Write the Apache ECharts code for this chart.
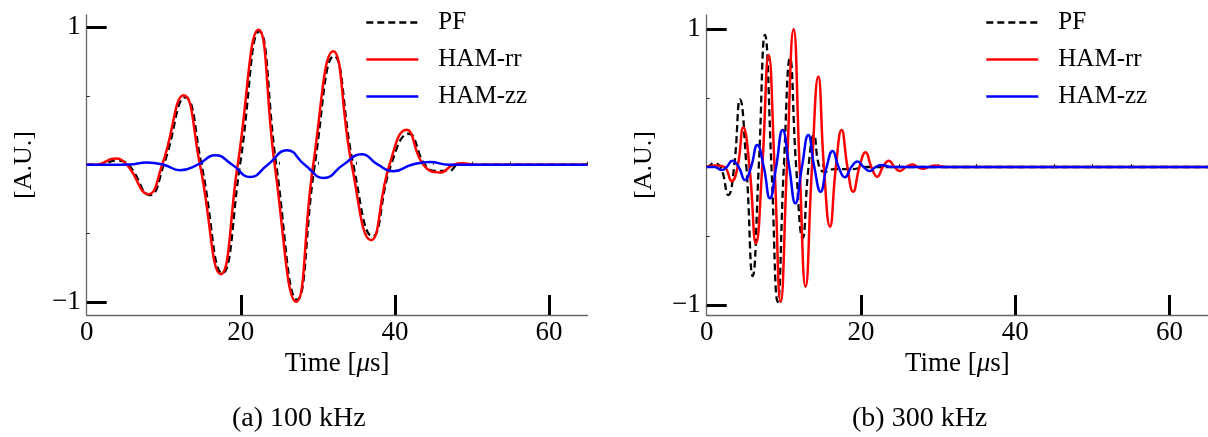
<!DOCTYPE html>
<html><head><meta charset="utf-8">
<script src="https://cdn.jsdelivr.net/npm/echarts@6/dist/echarts.min.js"></script>
<style>html,body{margin:0;padding:0;background:#fff}#c{width:1208px;height:437px}</style>
</head><body><div id="c"></div>
<script>
// ---- labels / ticks ----
const seriesNames = ['PF', 'HAM-rr', 'HAM-zz'];
const captions = ['(a) 100 kHz', '(b) 300 kHz'];
const xTickLabels = [0, 20, 40, 60];
const xTickMarks = [20, 40, 60];
const xMinorTicks = [5, 10, 15, 25, 30, 35, 45, 50, 55, 65];
const yTickLabels = [-1, 1];
const yMinorTicks = [-0.5, 0, 0.5];

// ---- (a) 100 kHz ----
const tA_pf = [0, 1.5, 3.9, 5.4, 8.2, 10.0, 12.8, 14.9, 17.6, 19.9, 22.4, 24.6, 27.3, 29.6, 32.1, 34.6, 37.1, 39.5, 41.8, 43.9, 45.3, 47.0, 48.3, 52, 65];
const vA_pf = [0, 0, 0.03, 0, -0.22, 0, 0.49, 0, -0.79, 0, 0.969, 0, -0.98, 0, 0.79, 0, -0.52, 0, 0.225, 0, -0.045, -0.045, 0, 0, 0];
const tA_rr = [0, 1.2, 3.67, 5.2, 8.0, 9.8, 12.6, 14.7, 17.4, 19.6, 22.3, 24.4, 27.2, 29.4, 32.0, 34.4, 36.9, 39.3, 41.5, 43.7, 45.85, 47.6, 48.8, 50.5, 65];
const vA_rr = [0, 0, 0.045, 0, -0.214, 0, 0.504, 0, -0.795, 0, 0.981, 0, -0.995, 0, 0.824, 0, -0.548, 0, 0.255, 0, -0.057, 0, 0.01, 0, 0];
const tA_zz = [0, 3, 5.5, 7.8, 10.0, 12.1, 14.4, 16.65, 18.9, 21.2, 23.5, 26.0, 28.3, 30.8, 33.3, 35.7, 37.8, 39.8, 42.2, 44.55, 47, 65];
const vA_zz = [0, 0, 0.002, 0.016, 0, -0.04, 0, 0.069, 0, -0.09, 0, 0.105, 0, -0.096, 0, 0.076, 0, -0.047, 0, 0.02, 0, 0];

// ---- (b) 300 kHz ----
const tB_pf = [0, 0.4, 0.86, 1.8, 2.8, 3.55, 4.32, 5.15, 5.96, 6.75, 7.55, 8.4, 9.2, 10.0, 10.8, 11.6, 12.44, 13.2, 13.9, 14.6, 15.33, 16.5, 19, 20.5, 65];
const vB_pf = [0, 0.01, 0.027, 0, -0.203, 0, 0.49, 0, -0.79, 0, 0.957, 0, -0.976, 0, 0.787, 0, -0.517, 0, 0.232, 0, -0.035, -0.015, -0.015, 0, 0];
const tB_rr = [0, 1.3, 2.3, 3.24, 4.0, 4.75, 5.55, 6.39, 7.2, 8.03, 8.8, 9.59, 10.4, 11.27, 12.05, 12.82, 13.65, 14.47, 15.2, 15.98, 16.75, 17.49, 18.25, 18.99, 19.8, 20.6, 21.35, 22.11, 22.85, 23.62, 24.35, 25.05, 25.85, 26.65, 27.35, 28.07, 28.8, 29.58, 31, 65];
const vB_rr = [0, 0.01, 0, -0.101, 0, 0.287, 0, -0.553, 0, 0.812, 0, -0.976, 0, 0.998, 0, -0.867, 0, 0.655, 0, -0.432, 0, 0.268, 0, -0.179, 0, 0.106, 0, -0.07, 0, 0.046, 0, -0.029, 0, 0.019, 0, -0.012, 0, 0.01, 0, 0];
const tB_zz = [0, 1.0, 1.94, 2.6, 3.32, 4.15, 4.96, 5.75, 6.56, 7.4, 8.2, 9.0, 9.84, 10.7, 11.5, 12.35, 13.17, 13.95, 14.77, 15.55, 16.32, 17.1, 17.92, 18.75, 19.56, 20.35, 21.16, 21.9, 22.67, 24, 65];
const vB_zz = [0, 0, -0.022, 0, 0.046, 0, -0.094, 0, 0.159, 0, -0.227, 0, 0.268, 0, -0.263, 0, 0.232, 0, -0.179, 0, 0.116, 0, -0.075, 0, 0.039, 0, -0.029, 0, 0.014, 0, 0];

const FONT = 'Liberation Serif';
const zip = (t, v) => t.map((x, i) => [x, v[i]]);

const grids = [
  { left: 86.7, top: 15, width: 500.8, height: 300 },
  { left: 706.7, top: 15, width: 501.3, height: 300 }
];
const yRange = [[-1.092, 1.088], [-1.072, 1.101]];

const xAxes = [], yAxes = [];
grids.forEach((g, gi) => {
  xAxes.push({
    type: 'value', gridIndex: gi, min: 0, max: 65, position: 'bottom',
    axisLine: { show: true, onZero: false, lineStyle: { color: '#666', width: 1.3 } },
    axisTick: { show: true, inside: true, length: 20, customValues: xTickMarks, lineStyle: { color: '#000', width: 3 } },
    axisLabel: { show: true, customValues: xTickLabels, margin: 4, fontFamily: FONT, fontSize: 27, color: '#000' },
    splitLine: { show: false },
    name: '{n|Time [}{i|μ}{n|s]}', nameLocation: 'middle', nameGap: 34,
    nameTextStyle: {
      fontFamily: FONT, fontSize: 27, color: '#000',
      rich: { n: { fontFamily: FONT, fontSize: 27, color: '#000' }, i: { fontFamily: FONT, fontSize: 27, fontStyle: 'italic', color: '#000' } }
    }
  });
  xAxes.push({
    type: 'value', gridIndex: gi, min: 0, max: 65, position: 'bottom',
    axisLine: { show: false },
    axisTick: { show: true, inside: true, length: 3, customValues: xMinorTicks, lineStyle: { color: '#222', width: 1 } },
    axisLabel: { show: false }, splitLine: { show: false }
  });
  yAxes.push({
    type: 'value', gridIndex: gi, min: yRange[gi][0], max: yRange[gi][1], position: 'left',
    axisLine: { show: true, onZero: false, lineStyle: { color: '#666', width: 1.3 } },
    axisTick: { show: true, inside: true, length: 20, customValues: yTickLabels, lineStyle: { color: '#000', width: 3 } },
    axisLabel: { show: true, customValues: yTickLabels, margin: 6, fontFamily: FONT, fontSize: 27, color: '#000',
      formatter: v => (v < 0 ? '\u2212' + Math.abs(v) : String(v)) },
    splitLine: { show: false },
    name: '[A.U.]', nameLocation: 'middle', nameGap: 50, nameRotate: 90,
    nameTextStyle: { fontFamily: FONT, fontSize: 26, color: '#000' }
  });
  yAxes.push({
    type: 'value', gridIndex: gi, min: yRange[gi][0], max: yRange[gi][1], position: 'left',
    axisLine: { show: false },
    axisTick: { show: true, inside: true, length: 3, customValues: yMinorTicks, lineStyle: { color: '#222', width: 1 } },
    axisLabel: { show: false }, splitLine: { show: false }
  });
});

const styles = {
  'PF': { color: '#000000', width: 2.3, type: [7, 4] },
  'HAM-rr': { color: '#ff0000', width: 2.5, type: 'solid' },
  'HAM-zz': { color: '#0000ff', width: 2.5, type: 'solid' }
};
const dataSets = [
  [zip(tA_pf, vA_pf), zip(tA_rr, vA_rr), zip(tA_zz, vA_zz)],
  [zip(tB_pf, vB_pf), zip(tB_rr, vB_rr), zip(tB_zz, vB_zz)]
];
const series = [];
dataSets.forEach((sets, gi) => {
  sets.forEach((d, si) => {
    const nm = seriesNames[si];
    series.push({
      type: 'line', name: nm, xAxisIndex: gi * 2, yAxisIndex: gi * 2, data: d,
      smooth: 0.5, symbol: 'none', showSymbol: false,
      lineStyle: { color: styles[nm].color, width: styles[nm].width, type: styles[nm].type },
      itemStyle: { color: styles[nm].color }, z: 2 + si
    });
  });
});

const legendBase = {
  data: seriesNames, orient: 'vertical', top: 5, itemWidth: 52, itemHeight: 14, itemGap: 12,
  itemStyle: { opacity: 0 },
  lineStyle: { width: 2.6 },
  textStyle: { fontFamily: FONT, fontSize: 25, color: '#000', padding: [0, 0, 0, 15], lineHeight: 25 }
};

const chart = echarts.init(document.getElementById('c'));
chart.setOption({
  animation: false,
  backgroundColor: '#fff',
  title: [
    { text: captions[0], left: 232, top: 405, padding: 0, textStyle: { fontFamily: FONT, fontSize: 28, fontWeight: 'normal', color: '#000' } },
    { text: captions[1], left: 852, top: 405, padding: 0, textStyle: { fontFamily: FONT, fontSize: 28, fontWeight: 'normal', color: '#000' } }
  ],
  legend: [Object.assign({ left: 360 }, legendBase), Object.assign({ left: 980 }, legendBase)],
  grid: grids,
  xAxis: xAxes,
  yAxis: yAxes,
  series: series
});
</script></body></html>
